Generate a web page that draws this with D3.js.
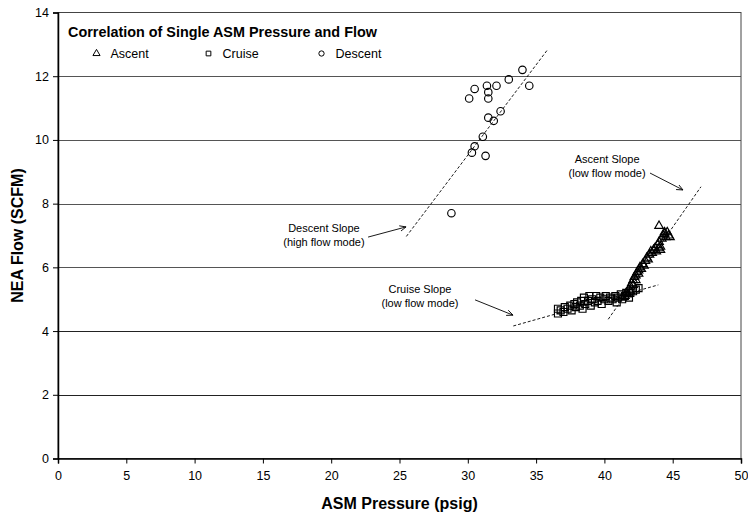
<!DOCTYPE html>
<html>
<head>
<meta charset="utf-8">
<script src="https://cdn.jsdelivr.net/npm/d3@7"></script>
<style>
  html, body { margin: 0; padding: 0; background: #fff; }
  svg { display: block; font-family: "Liberation Sans", Arial, sans-serif; }
</style>
</head>
<body>
<svg id="chart" width="748" height="516"></svg>
<script>
// ASM pressure (psig) vs NEA flow (SCFM), one array per flight phase
const ascent = [
  [41.3,5.05],[41.5,5.1],[41.6,5.2],[41.7,5.15],[41.8,5.3],[41.9,5.4],[41.9,5.25],
  [42.0,5.5],[42.1,5.6],[42.1,5.45],[42.2,5.7],[42.3,5.75],[42.3,5.6],[42.4,5.85],
  [42.5,5.9],[42.5,5.8],[42.6,6.0],[42.7,5.95],[42.8,6.1],[42.9,6.05],[43.0,6.2],
  [43.1,6.3],[43.2,6.25],[43.3,6.4],[43.4,6.5],[43.5,6.45],[43.6,6.55],[43.7,6.6],
  [43.8,6.5],[43.9,6.7],[44.0,6.8],[44.0,6.6],[44.1,6.65],[44.2,6.9],[44.3,7.0],
  [44.4,7.05],[44.5,6.95],[44.6,7.1],[44.7,7.0],[44.8,6.95],[44.0,7.3],[44.4,7.1],
  [44.1,6.55]
];
const cruise = [
  [36.6,4.55],[36.6,4.7],[36.8,4.65],[37.0,4.6],[37.1,4.75],[37.3,4.7],[37.5,4.8],
  [37.6,4.65],[37.8,4.85],[37.9,4.75],[38.0,4.9],[38.2,4.8],[38.3,4.95],[38.4,4.7],
  [38.5,5.05],[38.6,4.85],[38.8,4.95],[38.9,5.1],[39.0,4.8],[39.1,5.0],[39.3,4.9],
  [39.4,5.1],[39.5,4.95],[39.7,5.05],[39.8,4.85],[40.0,5.0],[40.1,5.1],[40.3,4.95],
  [40.4,5.05],[40.6,5.0],[40.8,5.1],[40.9,4.9],[41.0,5.05],[41.2,5.15],[41.3,5.0],
  [41.5,5.1],[41.6,5.2],[41.8,5.05],[41.9,5.2],[42.1,5.25],[42.3,5.3],[42.5,5.35]
];
const descent = [
  [34.0,12.2],[33.0,11.9],[34.5,11.7],[32.1,11.7],[31.4,11.7],[30.5,11.6],[31.5,11.5],
  [30.1,11.3],[31.5,11.3],[32.4,10.9],[31.5,10.7],[31.9,10.6],[31.1,10.1],[30.5,9.8],
  [30.3,9.6],[31.3,9.5],[28.8,7.7]
];

// Fitted slope lines (endpoints in data units)
const slopeLines = [
  { name: "descent", pts: [[25.5, 6.97], [35.8, 12.81]] },
  { name: "cruise",  pts: [[33.33, 4.16], [43.95, 5.45]] },
  { name: "ascent",  pts: [[40.28, 4.37], [47.07, 8.53]] }
];

// Callouts: label lines, label anchor, arrow start and tip (data units)
const callouts = [
  { lines: ["Descent Slope", "(high flow mode)"], at: [19.47, 7.12], from: [22.7, 6.95], to: [25.48, 7.27] },
  { lines: ["Cruise Slope", "(low flow mode)"],   at: [26.5, 5.21],  from: [30.53, 4.98], to: [33.31, 4.5] },
  { lines: ["Ascent Slope", "(low flow mode)"],   at: [40.2, 9.29],  from: [43.34, 8.96], to: [45.75, 8.43] }
];

const xTicks = [0, 5, 10, 15, 20, 25, 30, 35, 40, 45, 50];
const yTicks = [0, 2, 4, 6, 8, 10, 12, 14];
const legendItems = [
  { label: "Ascent", shape: "triangle" },
  { label: "Cruise", shape: "square" },
  { label: "Descent", shape: "circle" }
];

const svg = d3.select("#chart");
const margin = { top: 12.5, right: 7, bottom: 57.5, left: 58 };
const W = 748, H = 516;
const x = d3.scaleLinear().domain([0, 50]).range([margin.left, W - margin.right]);
const y = d3.scaleLinear().domain([0, 14]).range([H - margin.bottom, margin.top]);

// gridlines
svg.append("g")
  .selectAll("line")
  .data(yTicks.filter(t => t > 0 && t < 14))
  .join("line")
  .attr("x1", x(0)).attr("x2", x(50))
  .attr("y1", d => Math.round(y(d)) + 0.5).attr("y2", d => Math.round(y(d)) + 0.5)
  .attr("stroke", d => d <= 4 ? "#222" : "#555").attr("stroke-width", 1);

// plot frame
svg.append("rect")
  .attr("x", x(0)).attr("y", y(14))
  .attr("width", x(50) - x(0)).attr("height", y(0) - y(14))
  .attr("fill", "none").attr("stroke", "#444").attr("stroke-width", 1);

// axes
const xAxis = svg.append("g")
  .attr("transform", `translate(0,${y(0)})`)
  .call(d3.axisBottom(x).tickValues(xTicks).tickSize(5).tickPadding(8).tickFormat(d3.format("d")));
const yAxis = svg.append("g")
  .attr("transform", `translate(${x(0)},0)`)
  .call(d3.axisLeft(y).tickValues(yTicks).tickSize(5).tickPadding(4).tickFormat(d3.format("d")));
[xAxis, yAxis].forEach(g => {
  g.select(".domain").attr("stroke", "#000").attr("stroke-width", 1.5);
  g.selectAll(".tick line").attr("stroke", "#000");
  g.selectAll(".tick text").attr("font-size", 12.5).attr("fill", "#000")
    .attr("font-family", "Liberation Sans, Arial, sans-serif");
});

// axis titles
svg.append("text")
  .attr("x", (x(0) + x(50)) / 2).attr("y", 509)
  .attr("text-anchor", "middle").attr("font-size", 16).attr("font-weight", "bold")
  .text("ASM Pressure (psig)");
svg.append("text")
  .attr("transform", `translate(23,${(y(0) + y(14)) / 2}) rotate(-90)`)
  .attr("text-anchor", "middle").attr("font-size", 16).attr("font-weight", "bold")
  .text("NEA Flow (SCFM)");

// slope lines
const line = d3.line().x(d => x(d[0])).y(d => y(d[1]));
svg.append("g").selectAll("path")
  .data(slopeLines)
  .join("path")
  .attr("d", d => line(d.pts))
  .attr("fill", "none").attr("stroke", "#000").attr("stroke-width", 0.9)
  .attr("stroke-dasharray", "3,2");

// marker shapes
const sym = {
  triangle: d3.symbol().type(d3.symbolTriangle),
  square: d3.symbol().type(d3.symbolSquare),
  circle: d3.symbol().type(d3.symbolCircle)
};
function drawSeries(data, shape, size) {
  svg.append("g").selectAll("path")
    .data(data)
    .join("path")
    .attr("transform", d => `translate(${x(d[0])},${y(d[1])})`)
    .attr("d", sym[shape].size(size)())
    .attr("fill", "none").attr("stroke", "#000").attr("stroke-width", 1.15);
}
drawSeries(cruise, "square", 49);
drawSeries(ascent, "triangle", 32);
drawSeries(descent, "circle", 44);

// callouts
svg.append("defs").append("marker")
  .attr("id", "arrow").attr("viewBox", "0 0 10 10")
  .attr("refX", 9).attr("refY", 5)
  .attr("markerWidth", 7).attr("markerHeight", 7)
  .attr("markerUnits", "userSpaceOnUse")
  .attr("orient", "auto")
  .append("path").attr("d", "M0,1 L9,5 L0,9")
  .attr("fill", "none").attr("stroke", "#000").attr("stroke-width", 1.2);

const co = svg.append("g");
callouts.forEach(c => {
  const t = co.append("text")
    .attr("x", x(c.at[0])).attr("y", y(c.at[1]))
    .attr("text-anchor", "middle").attr("font-size", 11).attr("fill", "#000");
  c.lines.forEach((s, i) => t.append("tspan").attr("x", x(c.at[0])).attr("dy", i ? 14 : 0).text(s));
  co.append("line")
    .attr("x1", x(c.from[0])).attr("y1", y(c.from[1]))
    .attr("x2", x(c.to[0])).attr("y2", y(c.to[1]))
    .attr("stroke", "#000").attr("stroke-width", 0.9)
    .attr("marker-end", "url(#arrow)");
});

// legend
svg.append("text")
  .attr("x", 68).attr("y", 36.5)
  .attr("font-size", 14.4).attr("font-weight", "bold")
  .text("Correlation of Single ASM Pressure and Flow");
const legendX = [96.5, 208.5, 321.5];
const lg = svg.append("g");
legendItems.forEach((d, i) => {
  lg.append("path")
    .attr("transform", `translate(${legendX[i]},${53.5})`)
    .attr("d", sym[d.shape].size(22)())
    .attr("fill", "none").attr("stroke", "#000").attr("stroke-width", 1);
  lg.append("text")
    .attr("x", legendX[i] + 14).attr("y", 58)
    .attr("font-size", 12.5)
    .text(d.label);
});
</script>
</body>
</html>
